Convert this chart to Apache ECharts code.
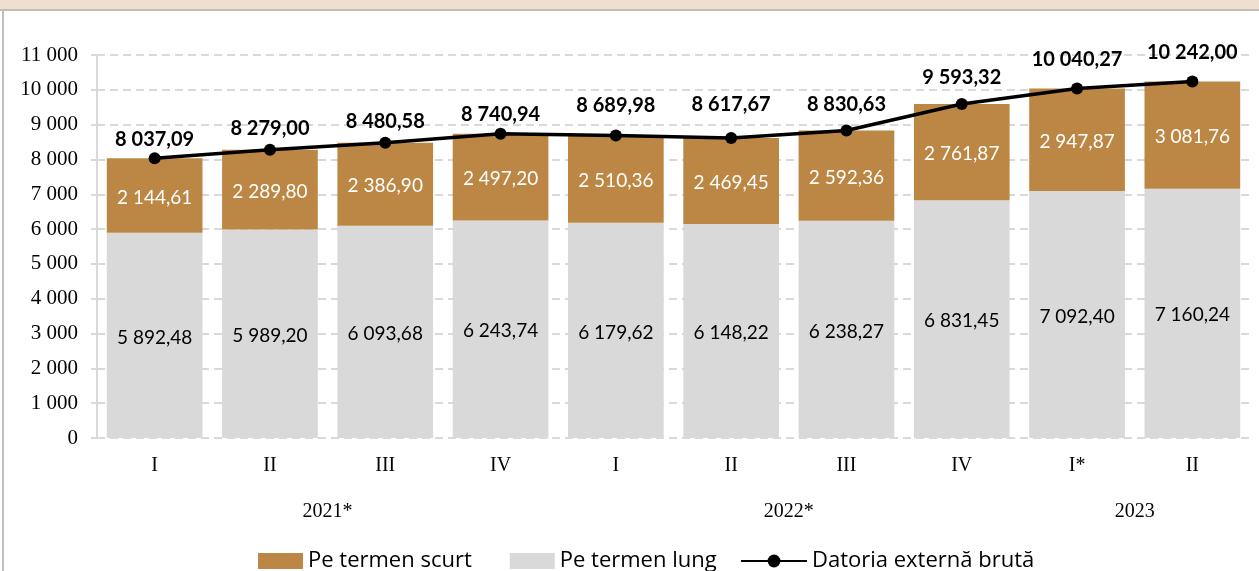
<!DOCTYPE html>
<html>
<head>
<meta charset="utf-8">
<script src="https://cdn.jsdelivr.net/npm/echarts@6/dist/echarts.min.js"></script>
<style>
html,body{margin:0;padding:0;background:#fff;}
#c{width:1259px;height:571px;}
</style>
</head>
<body>
<div id="c"></div>
<script>
// ---- data ----
var quarters = ['I','II','III','IV','I','II','III','IV','I*','II'];
var years = ['2021*','2022*','2023'];
var yearCenters = [1.5, 5.5, 8.5];
var shortTerm = [2144.61, 2289.80, 2386.90, 2497.20, 2510.36, 2469.45, 2592.36, 2761.87, 2947.87, 3081.76];
var longTerm = [5892.48, 5989.20, 6093.68, 6243.74, 6179.62, 6148.22, 6238.27, 6831.45, 7092.40, 7160.24];
var grossDebt = [8037.09, 8279.00, 8480.58, 8740.94, 8689.98, 8617.67, 8830.63, 9593.32, 10040.27, 10242.00];
var seriesNames = ['Pe termen scurt', 'Pe termen lung', 'Datoria externă brută'];

// ---- styling ----
var labelLift = [0, 2, 2, 0, 11, 14, 7, 7, 10, 10];
var SERIF = '"Liberation Serif", "DejaVu Serif", serif';
var SANS = 'Lato, "Open Sans", sans-serif';
var LEGEND_FONT = '"Open Sans", "Noto Sans", sans-serif';

function fmtThousands(n) {
  var s = String(Math.round(n));
  return s.replace(/\B(?=(\d{3})+(?!\d))/g, ' ');
}
function fmtVal(v) {
  var parts = v.toFixed(2).split('.');
  return parts[0].replace(/\B(?=(\d{3})+(?!\d))/g, ' ') + ',' + parts[1];
}

var legendText = { fontFamily: LEGEND_FONT, fontSize: 22, color: '#000' };

var chart = echarts.init(document.getElementById('c'));
var option = {
  animation: false,
  backgroundColor: '#ffffff',
  graphic: [
    { type: 'rect', shape: { x: 0, y: 0, width: 1259, height: 10 }, style: { fill: '#EFDFCF' }, z: 100 },
    { type: 'rect', shape: { x: 0, y: 9, width: 1259, height: 2 }, style: { fill: '#BFBFBF' }, z: 100 },
    { type: 'rect', shape: { x: 2, y: 10, width: 2, height: 561 }, style: { fill: '#BFBFBF' }, z: 100 }
  ],
  grid: { left: 97, right: 9, top: 55, bottom: 133, containLabel: false },
  legend: [
    {
      top: 545,
      left: 253,
      itemGap: 38,
      itemWidth: 45,
      itemHeight: 16,
      textStyle: legendText,
      data: [
        { name: seriesNames[0], icon: 'rect' },
        { name: seriesNames[1], icon: 'rect' }
      ]
    },
    {
      top: 545,
      left: 735,
      itemWidth: 66,
      itemHeight: 16,
      textStyle: legendText,
      data: [{ name: seriesNames[2] }]
    }
  ],
  xAxis: [
    {
      type: 'category',
      data: quarters,
      axisLine: { show: false },
      axisTick: { show: false },
      axisLabel: { fontFamily: SERIF, fontSize: 20, color: '#000', margin: 18 }
    },
    {
      type: 'value',
      position: 'bottom',
      min: -0.5,
      max: 9.5,
      axisLine: { show: false },
      axisTick: { show: false },
      splitLine: { show: false },
      axisLabel: {
        customValues: yearCenters,
        fontFamily: SERIF, fontSize: 20, color: '#000', margin: 64,
        formatter: function (v) {
          var i = yearCenters.indexOf(v);
          return i >= 0 ? years[i] : '';
        }
      }
    }
  ],
  yAxis: {
    type: 'value',
    min: 0,
    max: 11000,
    interval: 1000,
    axisLine: { show: true, onZero: false, lineStyle: { color: '#D9D9D9', width: 2 } },
    axisTick: { show: true, length: 6, lineStyle: { color: '#D9D9D9', width: 2 } },
    axisLabel: { fontFamily: SERIF, fontSize: 21, color: '#000', margin: 19, formatter: fmtThousands },
    splitLine: { show: true, lineStyle: { color: '#D9D9D9', width: 2, type: [8, 5] } }
  },
  series: [
    {
      name: seriesNames[1],
      type: 'bar',
      stack: 'debt',
      barCategoryGap: '17%',
      data: longTerm,
      itemStyle: { color: '#D9D9D9' },
      label: { show: true, position: 'inside', formatter: function (p) { return fmtVal(p.value); },
        fontFamily: SANS, fontSize: 19, color: '#000', offset: [0, 2] },
      z: 2
    },
    {
      name: seriesNames[0],
      type: 'bar',
      stack: 'debt',
      data: shortTerm,
      itemStyle: { color: '#BC8745' },
      label: { show: true, position: 'inside', formatter: function (p) { return fmtVal(p.value); },
        fontFamily: SANS, fontSize: 19, color: '#fff', offset: [0, 2] },
      z: 2
    },
    {
      name: seriesNames[2],
      type: 'line',
      data: grossDebt.map(function (v, i) {
        return { value: v, label: { distance: 3 + labelLift[i] } };
      }),
      symbol: 'circle',
      symbolSize: 12,
      lineStyle: { color: '#000', width: 3.5 },
      itemStyle: { color: '#000' },
      label: { show: true, position: 'top', formatter: function (p) { return fmtVal(p.value); },
        fontFamily: SANS, fontSize: 20, fontWeight: 'bold', color: '#000' },
      z: 5
    }
  ]
};
chart.setOption(option);
</script>
</body>
</html>
